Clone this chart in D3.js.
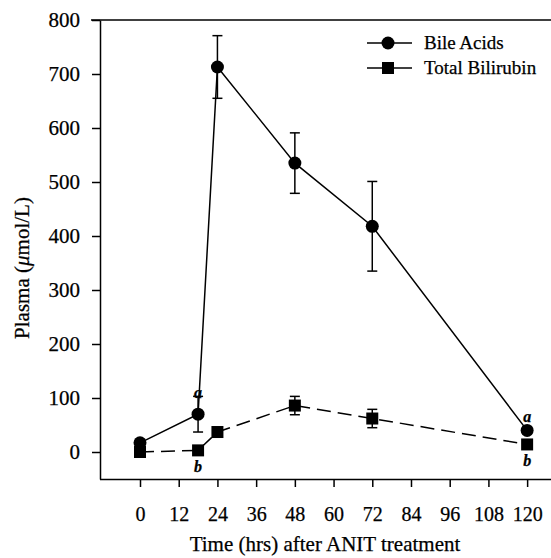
<!DOCTYPE html>
<html><head><meta charset="utf-8">
<script src="https://cdn.jsdelivr.net/npm/d3@7"></script>
<style>body{margin:0;background:#fff}svg{display:block}text{font-family:"Liberation Serif","Times New Roman",serif;fill:#000;stroke:#000;stroke-width:0.25px}</style>
</head><body>
<svg id="c" width="551" height="558"></svg>
<script>
const hours = [0, 18, 24, 48, 72, 120];
const bileAcids = [17, 70, 713, 535, 418, 40];
const bileErr = [6, 33, 58, 56, 83, 6];
const bilirubin = [0, 3, 37, 86, 62, 14];
const biliErr = [3, 3, 4, 17, 17, 3];
const xTicks = [0, 12, 24, 36, 48, 60, 72, 84, 96, 108, 120];
const yTicks = [0, 100, 200, 300, 400, 500, 600, 700, 800];
const seriesNames = ["Bile Acids", "Total Bilirubin"];
const annotations = [
  {x: 18, y: 70, text: "a", pos: "above", off: 22},
  {x: 18, y: 3, text: "b", pos: "below", off: 18},
  {x: 120, y: 40, text: "a", pos: "above", off: 14},
  {x: 120, y: 14, text: "b", pos: "below", off: 18}
];

const svg = d3.select("#c");
const x = d3.scaleLinear().domain([-12.4, 127.4]).range([100, 551]);
const y = d3.scaleLinear().domain([-50, 800]).range([479, 20]);

// axes
const gx = svg.append("g").attr("transform", "translate(0,479)")
  .call(d3.axisBottom(x).tickValues(xTicks).tickSize(8).tickPadding(20).tickSizeOuter(0));
const gy = svg.append("g").attr("transform", "translate(100,0)")
  .call(d3.axisLeft(y).tickValues(yTicks).tickSize(8).tickPadding(12).tickSizeOuter(0));
[gx, gy].forEach(g => {
  g.attr("font-family", null);
  g.selectAll("path,line").attr("stroke", "#000").attr("stroke-width", 1.5);
  g.selectAll("text").attr("font-size", 20).style("font-family", "'Liberation Serif', serif");
});
gy.selectAll("text").attr("font-size", 21);
gx.select(".domain").attr("d", "M100,0.5H551");
// top border
svg.append("line").attr("x1", 91).attr("x2", 551).attr("y1", y(800)).attr("y2", y(800))
  .attr("stroke", "#000").attr("stroke-width", 1.5);

// lines
const lineB = d3.line().x((d, i) => x(hours[i])).y(d => y(d));
svg.append("path").attr("d", lineB(bileAcids)).attr("fill", "none").attr("stroke", "#000").attr("stroke-width", 1.5);
svg.append("path").attr("d", lineB(bilirubin)).attr("fill", "none").attr("stroke", "#000").attr("stroke-width", 1.5)
  .attr("stroke-dasharray", "14,7");

// error bars
function errBars(vals, errs) {
  vals.forEach((v, i) => {
    const cx = x(hours[i]);
    svg.append("line").attr("x1", cx).attr("x2", cx).attr("y1", y(v - errs[i])).attr("y2", y(v + errs[i]))
      .attr("stroke", "#000").attr("stroke-width", 1.5);
    [v - errs[i], v + errs[i]].forEach(e => {
      svg.append("line").attr("x1", cx - 5).attr("x2", cx + 5).attr("y1", y(e)).attr("y2", y(e))
        .attr("stroke", "#000").attr("stroke-width", 1.5);
    });
  });
}
errBars(bileAcids, bileErr);
errBars(bilirubin, biliErr);

// markers
svg.selectAll(".sq").data(bilirubin).enter().append("rect")
  .attr("x", (d, i) => x(hours[i]) - 6).attr("y", d => y(d) - 6).attr("width", 12).attr("height", 12).attr("fill", "#000");
svg.selectAll(".ci").data(bileAcids).enter().append("circle")
  .attr("cx", (d, i) => x(hours[i])).attr("cy", d => y(d)).attr("r", 6.5).attr("fill", "#000");

// annotations
annotations.forEach(a => {
  svg.append("text").attr("x", x(a.x)).attr("y", a.pos === "above" ? y(a.y) - a.off + 6 : y(a.y) + a.off + 4)
    .attr("text-anchor", "middle").attr("font-size", 16).attr("font-style", "italic").attr("font-weight", "bold").text(a.text);
});

// legend
const leg = svg.append("g");
[0, 1].forEach(i => {
  const ly = 43 + i * 25;
  leg.append("line").attr("x1", 367).attr("x2", 412).attr("y1", ly).attr("y2", ly).attr("stroke", "#000").attr("stroke-width", 1.5);
  if (i === 0) leg.append("circle").attr("cx", 388).attr("cy", ly).attr("r", 6.5).attr("fill", "#000");
  else leg.append("rect").attr("x", 382).attr("y", ly - 6).attr("width", 12).attr("height", 12).attr("fill", "#000");
  leg.append("text").attr("x", 424).attr("y", ly + 6).attr("font-size", 19).text(seriesNames[i]);
});

// axis titles
svg.append("text").attr("x", 325).attr("y", 551).attr("text-anchor", "middle").attr("font-size", 21)
  .text("Time (hrs) after ANIT treatment");
const yl = svg.append("text").attr("transform", "translate(29,268) rotate(-90)").attr("text-anchor", "middle").attr("font-size", 21);
yl.append("tspan").text("Plasma (");
yl.append("tspan").attr("font-style", "italic").text("μ");
yl.append("tspan").text("mol/L)");
</script>
</body></html>
